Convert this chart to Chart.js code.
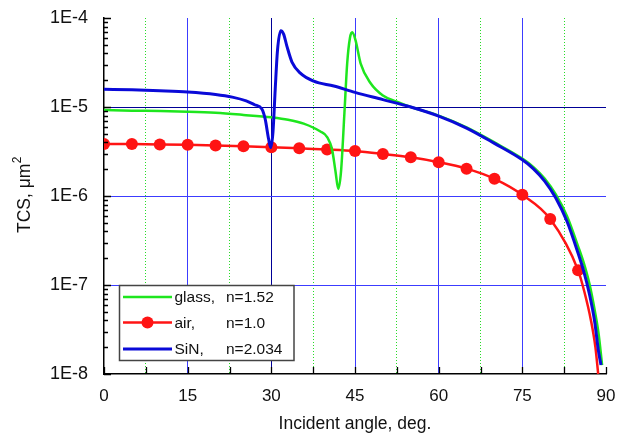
<!DOCTYPE html>
<html>
<head>
<meta charset="utf-8">
<script src="https://cdn.jsdelivr.net/npm/chart.js@4.4.1/dist/chart.umd.min.js"></script>
<style>
  html, body { margin: 0; padding: 0; background: #fff; }
  #tcs { display: block; }
</style>
</head>
<body>
<canvas id="tcs" width="617" height="438"></canvas>
<script>
// total cross section vs. incident angle for three substrates
var glassAngle = [0, 5, 10, 15, 20, 25, 30, 33, 35.8, 38.8, 40, 40.9, 41.5, 42, 42.5, 43.1, 43.6, 44.1, 44.5, 45.1, 46, 47.8, 50, 52.5, 55, 60, 65, 70, 75, 77, 79, 81, 83, 85, 86, 87, 88, 88.7, 89.3];
var glassTcs = [9.25e-6, 9.1e-6, 9.0e-6, 8.85e-6, 8.6e-6, 8.15e-6, 7.65e-6, 7.2e-6, 6.5e-6, 5.3e-6, 4.6e-6, 3.3e-6, 1.9e-6, 1.2e-6, 1.9e-6, 8.5e-6, 3.1e-5, 6.0e-5, 6.9e-5, 5.6e-5, 3.1e-5, 1.85e-5, 1.35e-5, 1.15e-5, 1.0e-5, 8.0e-6, 5.9e-6, 4.0e-6, 2.63e-6, 2.11e-6, 1.57e-6, 1.04e-6, 5.96e-7, 2.72e-7, 1.78e-7, 1.05e-7, 5.1e-8, 2.75e-8, 1.26e-8];

var airAngle = [0, 5, 10, 15, 20, 25, 30, 35, 40, 45, 50, 55, 60, 65, 70, 75, 80, 85, 86.1, 87.3, 88.1, 88.6];
var airTcs = [3.85e-6, 3.83e-6, 3.8e-6, 3.76e-6, 3.7e-6, 3.62e-6, 3.53e-6, 3.43e-6, 3.33e-6, 3.2e-6, 2.97e-6, 2.72e-6, 2.4e-6, 2.03e-6, 1.56e-6, 1.03e-6, 5.5e-7, 1.46e-7, 8.5e-8, 4.0e-8, 2.0e-8, 1.0e-8];

var sinAngle = [0, 5, 10, 15, 20, 23, 25.5, 27, 28.3, 28.9, 29.5, 29.9, 30.3, 30.7, 31.1, 31.7, 32.2, 32.8, 33.7, 35.2, 37.6, 41.2, 45, 50, 55, 60, 65, 70, 75, 77, 79, 81, 83, 85, 86, 87, 88, 88.6, 89.1];
var sinTcs = [1.58e-5, 1.56e-5, 1.52e-5, 1.47e-5, 1.38e-5, 1.29e-5, 1.17e-5, 1.06e-5, 9.5e-6, 7.3e-6, 4.4e-6, 3.5e-6, 5.3e-6, 1.6e-5, 4.3e-5, 7.2e-5, 6.6e-5, 4.8e-5, 3.2e-5, 2.4e-5, 1.95e-5, 1.72e-5, 1.46e-5, 1.21e-5, 1.0e-5, 7.9e-6, 5.8e-6, 3.9e-6, 2.55e-6, 2.02e-6, 1.47e-6, 9.5e-7, 5.2e-7, 2.27e-7, 1.43e-7, 8.05e-8, 3.77e-8, 1.9e-8, 1.26e-8];

var seriesNames = ['glass,', 'air,', 'SiN,'];
var seriesIndex = ['n=1.52', 'n=1.0', 'n=2.034'];
var seriesColors = ['#1ee61e', '#ff1414', '#0a0ad8'];

var xTicks = [0, 7.5, 15, 22.5, 30, 37.5, 45, 52.5, 60, 67.5, 75, 82.5, 90];
var yTicks = [1e-8, 1e-7, 1e-6, 1e-5, 1e-4];
var yTickLabels = ['1E-8', '1E-7', '1E-6', '1E-5', '1E-4'];

var FONT = '"Liberation Sans", Arial, sans-serif';

function toPoints(xs, ys) {
    return xs.map(function (x, i) { return { x: x, y: ys[i] }; });
}

function xGridColor(v) {
    if (v === 0 || v === 90) return 'rgba(0,0,0,0)';
    if (v === 30) return 'rgb(0,0,150)';
    if (v % 15 === 0) return 'rgb(60,60,255)';
    return 'rgb(40,220,40)';
}

function yGridColor(v) {
    var e = Math.round(Math.log10(v));
    if (e === -5) return 'rgb(0,0,150)';
    if (e === -6 || e === -7) return 'rgb(60,60,255)';
    return 'rgba(0,0,0,0)';
}

// drop the label overflow so the plot box sits where the padding says
function noOverflow(s) {
    s.paddingLeft = 0;
    s.paddingRight = 0;
    s.paddingTop = 0;
    s.paddingBottom = 0;
}

// inside tick marks, legend box and axis titles
var decorations = {
    id: 'decorations',
    afterDatasetsDraw: function (chart) {
        var ctx = chart.ctx, a = chart.chartArea;
        var xs = chart.scales.x, ys = chart.scales.y;
        ctx.save();

        ctx.strokeStyle = '#000';
        ctx.lineWidth = 1.3;
        ctx.beginPath();
        xTicks.forEach(function (v) {
            var px = Math.round(xs.getPixelForValue(v)) + 0.5;
            ctx.moveTo(px, a.bottom);
            ctx.lineTo(px, a.bottom - 7);
        });
        for (var e = -8; e <= -4; e++) {
            for (var m = 1; m < 10; m++) {
                var v = m * Math.pow(10, e);
                if (v > 1.0001e-4) break;
                var py = Math.round(ys.getPixelForValue(v)) + 0.5;
                ctx.moveTo(a.left, py);
                ctx.lineTo(a.left + (m === 1 ? 7 : 4), py);
            }
        }
        ctx.stroke();

        // legend
        var bx = 119.5, by = 285.5, bw = 174.5, bh = 75;
        ctx.fillStyle = '#fff';
        ctx.fillRect(bx, by, bw, bh);
        ctx.strokeStyle = '#444';
        ctx.lineWidth = 1.5;
        ctx.strokeRect(bx, by, bw, bh);

        var rows = [297, 322.5, 349];
        ctx.font = '15.5px ' + FONT;
        ctx.textBaseline = 'middle';
        ctx.textAlign = 'left';
        seriesNames.forEach(function (name, i) {
            var ds = chart.data.datasets[i];
            ctx.strokeStyle = ds.borderColor;
            ctx.lineWidth = ds.borderWidth;
            ctx.beginPath();
            ctx.moveTo(123, rows[i]);
            ctx.lineTo(172, rows[i]);
            ctx.stroke();
            if (name === 'air,') {
                ctx.fillStyle = ds.borderColor;
                ctx.beginPath();
                ctx.arc(147.5, rows[i], 6, 0, Math.PI * 2);
                ctx.fill();
            }
            ctx.fillStyle = '#111';
            ctx.fillText(name, 174.5, rows[i] + 1);
            ctx.fillText(seriesIndex[i], 226, rows[i] + 1);
        });
        ctx.restore();
    },
    afterDraw: function (chart) {
        var ctx = chart.ctx, a = chart.chartArea;
        ctx.save();
        ctx.fillStyle = '#111';
        ctx.font = '17.5px ' + FONT;
        ctx.textAlign = 'center';
        ctx.textBaseline = 'middle';
        ctx.fillText('Incident angle, deg.', (a.left + a.right) / 2, 424);

        // y title with superscript
        var main = 'TCS, \u03bcm', sup = '2';
        ctx.font = '17.5px ' + FONT;
        var w1 = ctx.measureText(main).width;
        ctx.font = '12px ' + FONT;
        var w2 = ctx.measureText(sup).width;
        ctx.translate(30, 195);
        ctx.rotate(-Math.PI / 2);
        ctx.textAlign = 'left';
        ctx.textBaseline = 'alphabetic';
        ctx.font = '17.5px ' + FONT;
        ctx.fillText(main, -(w1 + w2) / 2, 0);
        ctx.font = '12px ' + FONT;
        ctx.fillText(sup, -(w1 + w2) / 2 + w1 + 0.5, -9);
        ctx.restore();
    }
};

var ctx = document.getElementById('tcs');
var tcsChart = new Chart(ctx, {
    type: 'line',
    data: {
        datasets: [{
            label: 'glass',
            data: toPoints(glassAngle, glassTcs),
            borderColor: seriesColors[0],
            borderWidth: 2.5,
            pointRadius: 0,
            cubicInterpolationMode: 'monotone',
            clip: 0,
            order: 1
        }, {
            label: 'air',
            data: toPoints(airAngle, airTcs),
            borderColor: seriesColors[1],
            backgroundColor: seriesColors[1],
            borderWidth: 2.5,
            pointRadius: airAngle.map(function (a) { return a % 5 === 0 ? 6 : 0; }),
            pointBorderWidth: 0,
            pointBackgroundColor: seriesColors[1],
            cubicInterpolationMode: 'monotone',
            clip: 0,
            order: 2
        }, {
            label: 'SiN',
            data: toPoints(sinAngle, sinTcs),
            borderColor: seriesColors[2],
            borderWidth: 3,
            pointRadius: 0,
            cubicInterpolationMode: 'monotone',
            clip: 0,
            order: 0
        }]
    },
    options: {
        responsive: false,
        animation: false,
        events: [],
        layout: { padding: { top: 18, right: 11, left: 0, bottom: 0 } },
        plugins: { legend: { display: false }, tooltip: { enabled: false } },
        scales: {
            x: {
                type: 'linear',
                min: 0,
                max: 90,
                afterFit: function (s) { s.height = 64; noOverflow(s); },
                afterBuildTicks: function (s) { s.ticks = xTicks.map(function (v) { return { value: v }; }); },
                ticks: {
                    autoSkip: false,
                    maxRotation: 0,
                    padding: 12,
                    color: '#111',
                    font: { family: FONT, size: 17 },
                    callback: function (v) { return v % 15 === 0 ? String(v) : ''; }
                },
                grid: {
                    drawTicks: false,
                    lineWidth: 1,
                    color: function (c) { return c.tick ? xGridColor(c.tick.value) : '#000'; }
                },
                border: {
                    display: true,
                    color: '#000',
                    width: 1.5,
                    dash: function (c) { return c.tick && c.tick.value % 15 !== 0 ? [1, 2] : []; }
                }
            },
            y: {
                type: 'logarithmic',
                min: 1e-8,
                max: 1e-4,
                afterFit: function (s) { s.width = 104; noOverflow(s); },
                afterBuildTicks: function (s) { s.ticks = yTicks.map(function (v) { return { value: v }; }); },
                ticks: {
                    autoSkip: false,
                    padding: 16,
                    color: '#111',
                    font: { family: FONT, size: 18 },
                    callback: function (v) { return yTickLabels[yTicks.indexOf(v)]; }
                },
                grid: {
                    drawTicks: false,
                    lineWidth: 1,
                    color: function (c) { return c.tick ? yGridColor(c.tick.value) : '#000'; }
                },
                border: { display: true, color: '#000', width: 1.5 }
            }
        }
    },
    plugins: [decorations]
});
</script>
</body>
</html>
